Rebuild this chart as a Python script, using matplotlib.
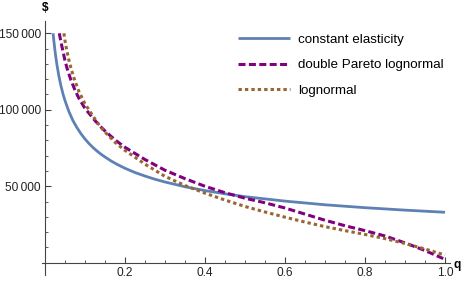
import matplotlib
matplotlib.use("Agg")
import matplotlib.pyplot as plt
from matplotlib.ticker import MultipleLocator, FixedLocator, FuncFormatter

plt.rcParams['font.family'] = ['Liberation Sans', 'DejaVu Sans']

# constant elasticity
q_ce = [0.0205, 0.0225, 0.025, 0.0275, 0.03, 0.035, 0.04, 0.045, 0.05, 0.06, 0.07, 0.08,
        0.09, 0.1, 0.11, 0.12, 0.13, 0.14, 0.15, 0.165, 0.18, 0.2, 0.225, 0.25, 0.275,
        0.3, 0.35, 0.4, 0.45, 0.5, 0.6, 0.7, 0.8, 0.9, 1.0]
v_ce = [150000, 144900, 139100, 134100, 129600, 122000, 115800, 110600, 106200, 98900,
        93000, 88400, 84400, 81000, 78000, 75400, 73100, 71000, 69200, 66600, 64400,
        61800, 59000, 56700, 54600, 52800, 49700, 47200, 45100, 43200, 40300, 37900,
        36000, 34400, 33000]

# double Pareto lognormal
q_dp = [0.036, 0.04, 0.045, 0.05, 0.055, 0.065, 0.075, 0.085, 0.1, 0.11, 0.125, 0.14,
        0.15, 0.175, 0.2, 0.25, 0.3, 0.35, 0.4, 0.45, 0.5, 0.55, 0.6, 0.65, 0.7, 0.75,
        0.8, 0.85, 0.9, 0.95, 1.0]
v_dp = [150000, 144500, 138500, 132500, 127500, 119500, 113000, 107500, 101000, 97800,
        93000, 88800, 86200, 80400, 75500, 67500, 60500, 55000, 50000, 45800, 42200,
        39200, 35800, 31800, 27800, 24200, 21000, 17500, 13000, 8000, 2200]

# lognormal
q_ln = [0.0475, 0.051, 0.055, 0.06, 0.065, 0.07, 0.075, 0.085, 0.1, 0.11, 0.125, 0.14,
        0.15, 0.175, 0.2, 0.25, 0.3, 0.35, 0.4, 0.45, 0.5, 0.55, 0.6, 0.65, 0.7, 0.75,
        0.8, 0.85, 0.9, 0.95, 1.0]
v_ln = [150000, 144000, 138500, 132500, 127500, 123000, 119000, 112000, 104000, 100000,
        94000, 88500, 85500, 78800, 73500, 64500, 56500, 50500, 45500, 41000, 36800,
        33200, 29800, 26600, 23600, 21000, 18500, 15800, 12600, 9000, 5000]

labels = ["constant elasticity", "double Pareto lognormal", "lognormal"]
x_ticks = [0.2, 0.4, 0.6, 0.8, 1.0]
y_ticks = [50000, 100000, 150000]

fig = plt.figure(figsize=(4.71, 2.81), dpi=100)
ax = fig.add_axes([0.0885, 0.0214, 0.9554 - 0.0885, 0.925 - 0.0214])

ax.plot(q_ce, v_ce, color='#5E81B5', lw=2.0, label=labels[0], solid_capstyle='butt')
ax.plot(q_dp, v_dp, color='#800080', lw=2.2, ls=(0, (2.3, 1.1)), label=labels[1])
ax.plot(q_ln, v_ln, color='#996633', lw=2.2, ls=(0, (1.1, 1.0)), label=labels[2])

ax.set_xlim(-0.008, 1.0125)
ax.set_ylim(-8000, 158000)

for s in ['top', 'right']:
    ax.spines[s].set_visible(False)
ax.spines['left'].set_position(('data', 0))
ax.spines['bottom'].set_position(('data', 0))
for s in ['left', 'bottom']:
    ax.spines[s].set_color('#444444')
    ax.spines[s].set_linewidth(0.8)

ax.xaxis.set_major_locator(FixedLocator(x_ticks))
ax.xaxis.set_minor_locator(MultipleLocator(0.05))
ax.yaxis.set_major_locator(FixedLocator(y_ticks))
ax.yaxis.set_minor_locator(MultipleLocator(10000))
ax.xaxis.set_major_formatter(FuncFormatter(lambda v, p: f"{v:.1f}"))
ax.yaxis.set_major_formatter(FuncFormatter(lambda v, p: f"{int(v):,}".replace(",", "\u2009")))

ax.tick_params(which='major', direction='in', length=4, width=0.8, color='#444444',
               labelsize=8.6, labelcolor='#222222', pad=3)
ax.tick_params(which='minor', direction='in', length=2.5, width=0.6, color='#444444')

fig.text(45 / 471, 1 - 8 / 281, "$", fontsize=8.6, fontweight='bold', ha='center', va='center')
fig.text(457 / 471, 1 - 265 / 281, "q", fontsize=8.6, fontweight='bold', ha='center', va='center')

leg = ax.legend(loc='upper left', bbox_to_anchor=(238 / 471, 1 - 33.5 / 281),
                bbox_transform=fig.transFigure, frameon=False, fontsize=9.6,
                handlelength=3.9, handletextpad=0.6, labelspacing=0.98,
                borderpad=0, borderaxespad=0)

fig.savefig("out.png", dpi=100)
